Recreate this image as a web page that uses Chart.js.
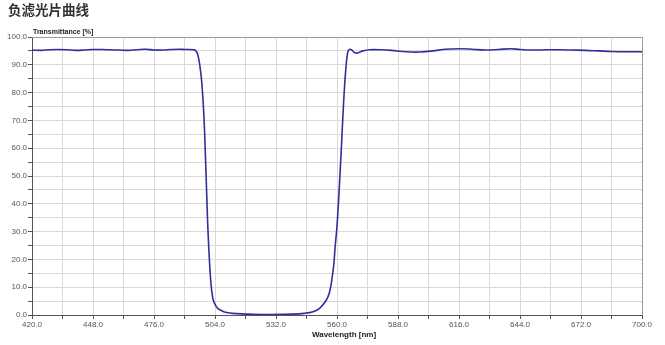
<!DOCTYPE html>
<html><head><meta charset="utf-8">
<script src="https://cdn.jsdelivr.net/npm/chart.js@4/dist/chart.umd.min.js"></script>
<style>html,body{margin:0;padding:0;background:#fff}#wrap{position:relative;width:665px;height:345px}</style>
</head><body><div id="wrap"><canvas id="c" width="665" height="345"></canvas></div>
<script>
const chartTitle = "负滤光片曲线";
const yTitle = "Transmittance [%]";
const xTitle = "Wavelength [nm]";
const wavelength = [420,424,428,432,436,440,444,448,452,456,460,464,468,472,476,480,484,488,490,492,494,495,496,497,498,499,500,500.8,502,503,504,505,506,508,510,512,516,520,530,540,545,549,552,555,556.5,557.5,558.5,559.2,560,561,562,563,564,565,566,567,568,569,570,572,575,580,585,590,594,598,604,610,616,622,628,634,640,644,650,656,662,668,674,680,686,692,700];
const transmittance = [95.3,95.2,95.4,95.5,95.4,95.2,95.3,95.5,95.5,95.4,95.3,95.2,95.4,95.6,95.3,95.3,95.5,95.6,95.5,95.5,95.4,95.2,94.0,90.0,83.0,70.0,48.0,30.0,12.6,6.0,3.8,2.6,2.0,1.2,0.8,0.6,0.4,0.3,0.2,0.3,0.6,1.2,2.4,5.2,8.0,12.0,18.0,25.0,32.0,45.0,60.0,76.0,88.0,94.8,95.6,95.2,94.4,94.2,94.4,95.0,95.4,95.4,95.2,94.8,94.6,94.6,95.0,95.6,95.8,95.6,95.3,95.5,95.8,95.5,95.3,95.4,95.4,95.3,95.2,95.0,94.8,94.7,94.7];
const xMin = 420, xMax = 700, xStep = 14, xLabelStep = 28;
const yMin = 0, yMax = 100, yStep = 5, yLabelStep = 10;

const points = wavelength.map((w,i)=>({x:w,y:transmittance[i]}));

const textPlugin = {
  id:'texts',
  afterDraw(chart){
    const ctx = chart.ctx, a = chart.chartArea;
    ctx.save();
    ctx.strokeStyle = '#9a9a9a'; ctx.lineWidth = 1;
    ctx.beginPath();
    ctx.moveTo(a.left, a.top+0.5); ctx.lineTo(a.right+0.5, a.top+0.5); ctx.lineTo(a.right+0.5, a.bottom);
    ctx.stroke();
    ctx.fillStyle = '#333';
    ctx.font = 'bold 13.5px "Noto Sans CJK SC"';
    ctx.textBaseline = 'middle'; ctx.textAlign = 'left';
    ctx.fillText(chartTitle, 8, 10);
    ctx.font = 'bold 7px "Liberation Sans"';
    ctx.fillStyle = '#222';
    ctx.fillText(yTitle, 33, 32);
    ctx.font = 'bold 8px "Liberation Sans"';
    ctx.textAlign = 'center';
    ctx.fillText(xTitle, 344, 335);
    ctx.restore();
  }
};

new Chart(document.getElementById('c'), {
  type:'line',
  data:{datasets:[{data:points, borderColor:'#2f2f9e', borderWidth:1.6, pointRadius:0, tension:0.35, fill:false}]},
  options:{
    responsive:false, animation:false,
    layout:{padding:{top:37,right:23,left:0,bottom:0}},
    plugins:{legend:{display:false}, tooltip:{enabled:false}},
    scales:{
      x:{type:'linear', min:xMin, max:xMax,
        afterFit(s){s.height=30;},
        ticks:{stepSize:xStep, autoSkip:false, maxRotation:0, padding:1, color:'#555', font:{family:'Liberation Sans', size:8},
          callback:(v)=>((v-xMin)%xLabelStep===0 ? v.toFixed(1) : '')},
        grid:{color:'#d9d9d9', tickColor:'#555', tickLength:4},
        border:{color:'#555', width:1}
      },
      y:{type:'linear', min:yMin, max:yMax,
        afterFit(s){s.width=32;},
        ticks:{stepSize:yStep, autoSkip:false, padding:1, color:'#555', font:{family:'Liberation Sans', size:8},
          callback:(v)=>(v%yLabelStep===0 ? v.toFixed(1) : '')},
        grid:{color:'#d9d9d9', tickColor:'#555', tickLength:4},
        border:{color:'#555', width:1}
      }
    }
  },
  plugins:[textPlugin]
});
</script></body></html>
